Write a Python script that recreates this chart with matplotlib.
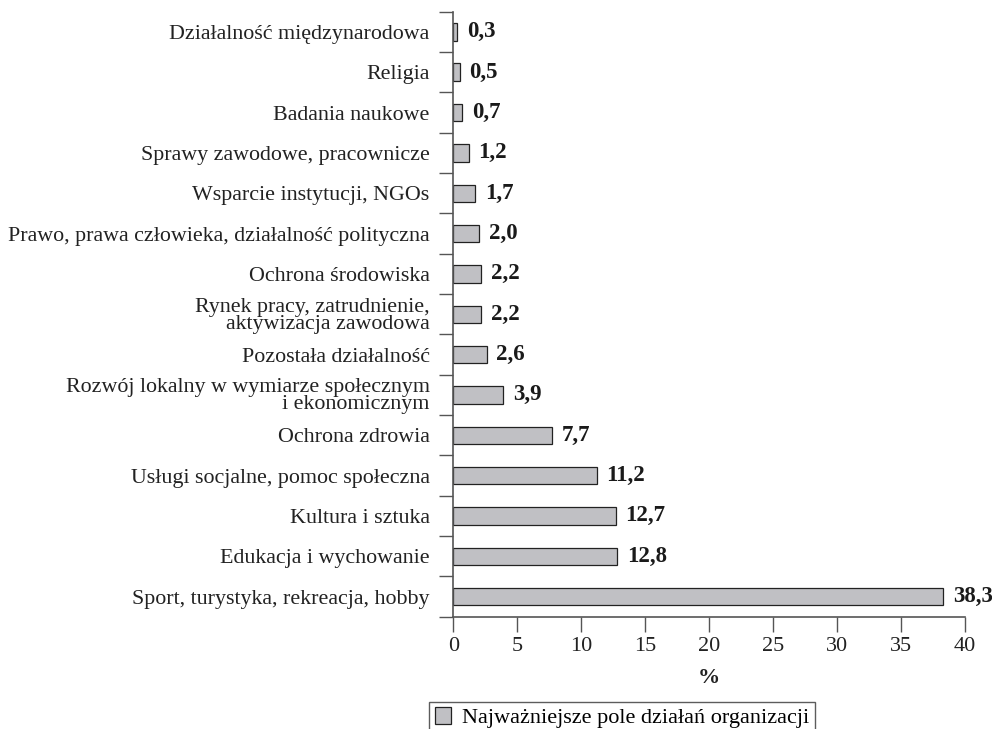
import matplotlib.pyplot as plt
import numpy as np

plt.rcParams['font.family'] = ['Liberation Serif', 'DejaVu Serif']

categories = [
    "Sport, turystyka, rekreacja, hobby",
    "Edukacja i wychowanie",
    "Kultura i sztuka",
    "Usługi socjalne, pomoc społeczna",
    "Ochrona zdrowia",
    "Rozwój lokalny w wymiarze społecznym\ni ekonomicznym",
    "Pozostała działalność",
    "Rynek pracy, zatrudnienie,\naktywizacja zawodowa",
    "Ochrona środowiska",
    "Prawo, prawa człowieka, działalność polityczna",
    "Wsparcie instytucji, NGOs",
    "Sprawy zawodowe, pracownicze",
    "Badania naukowe",
    "Religia",
    "Działalność międzynarodowa",
]
values = [38.3, 12.8, 12.7, 11.2, 7.7, 3.9, 2.6, 2.2, 2.2, 2.0, 1.7, 1.2, 0.7, 0.5, 0.3]
value_labels = ["38,3", "12,8", "12,7", "11,2", "7,7", "3,9", "2,6", "2,2", "2,2",
                "2,0", "1,7", "1,2", "0,7", "0,5", "0,3"]
x_ticks = [0, 5, 10, 15, 20, 25, 30, 35, 40]
series_name = "Najważniejsze pole działań organizacji"

fig = plt.figure(figsize=(9.92, 7.29), dpi=100)
ax = fig.add_axes([0.457, 0.154, 0.516, 0.830])

y = np.arange(len(categories))
ax.barh(y, values, height=0.43, color="#c0c0c4", edgecolor="#222222",
        linewidth=0.9, label=series_name)

for yi, v, lab in zip(y, values, value_labels):
    ax.annotate(lab, (v, yi), xytext=(7, 0), textcoords="offset points",
                ha="left", va="center", fontsize=16.5, fontweight="bold", color="#1a1a1a")

ax.set_xlim(0, 40)
ax.set_ylim(-0.5, len(categories) - 0.5)
ax.set_xticks(x_ticks)
ax.set_xticklabels([str(t) for t in x_ticks], fontsize=16, color="#222222")
ax.tick_params(axis="x", direction="out", length=11, width=1, color="#555555", pad=3.5)

# category boundaries as major ticks, labels as minor ticks without marks
ax.set_yticks(np.arange(len(categories) + 1) - 0.5)
ax.set_yticklabels([])
ax.set_yticks(y, minor=True)
ax.set_yticklabels(categories, minor=True, fontsize=15.8, color="#222222",
                   linespacing=0.85)
ax.tick_params(axis="y", which="major", direction="out", length=10, width=1, color="#555555")
ax.tick_params(axis="y", which="minor", length=0, pad=17)

for s in ["top", "right"]:
    ax.spines[s].set_visible(False)
for s in ["left", "bottom"]:
    ax.spines[s].set_color("#555555")
    ax.spines[s].set_linewidth(1.2)

ax.set_xlabel("%", fontsize=16, fontweight="bold", color="#222222", labelpad=9)

leg = fig.legend(loc="upper left", bbox_to_anchor=(0.4325, 0.0374), fontsize=16,
                 frameon=True, fancybox=False, edgecolor="#333333",
                 handlelength=0.75, handleheight=0.75, handletextpad=0.5,
                 borderpad=0.25, borderaxespad=0)
leg.get_frame().set_linewidth(1.0)

plt.savefig("out.png", dpi=100)
